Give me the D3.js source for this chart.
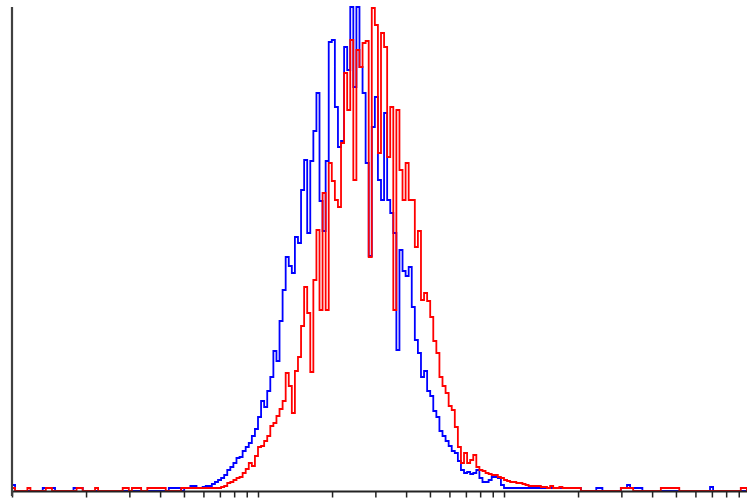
<!DOCTYPE html>
<html>
<head>
<meta charset="utf-8">
<script src="https://cdn.jsdelivr.net/npm/d3@7"></script>
<style>
  html, body { margin: 0; padding: 0; background: #fff; }
  svg { display: block; }
</style>
</head>
<body>
<svg id="chart" width="747" height="499"></svg>
<script>
// Histogram channels: 80 channels per decade on a log axis starting at 10^0
const channelsPerDecade = 80;

const blueCounts = [
  6,0,0,0,0,0,0,0,0,0, 3,3,3,3,0,0,0,0,0,0,
  3,3,3,0,0,0,0,0,0,0, 0,0,0,0,0,0,0,0,0,0,
  0,0,0,0,0,0,0,0,0,0, 0,3,3,3,3,0,3,3,5,5,
  3,3,4,5,5,7,9,11,13,16, 21,24,28,33,34,40,44,48,55,62,
  74,90,84,100,114,140,130,170,201,234, 225,218,254,248,301,331,258,330,360,398,
  290,260,330,449,451,384,344,350,444,421, 484,404,484,424,398,328,235,364,394,311,
  291,378,291,278,258,141,241,220,215,224, 184,151,138,114,120,100,95,80,74,60,
  55,50,45,40,38,30,21,18,19,17, 18,21,13,9,9,11,14,14,13,6,
  3,3,3,3,3,3,3,3,3,3, 3,3,3,3,3,3,3,3,3,3,
  3,3,3,3,3,0,0,0,0,0, 3,3,0,0,0,0,0,0,3,3,
  6,3,3,3,3,0,0,0,0,0, 0,0,0,0,0,0,0,0,0,0,
  0,0,0,0,0,0,0,4,0,0, 0,0,0,0,0,0,0,0,0,0
];

const redCounts = [
  3,0,0,0,0,3,0,0,0,0, 0,3,3,0,0,0,0,0,0,0,
  0,3,3,0,0,0,0,3,0,0, 0,0,0,0,0,0,3,3,0,3,
  3,3,0,0,3,3,3,3,3,3, 0,0,0,0,0,3,3,3,3,3,
  3,3,3,3,3,3,3,3,4,5, 8,9,11,13,14,18,22,28,25,35,
  44,45,50,55,65,68,75,82,90,118, 105,78,120,134,165,204,178,119,211,261,
  181,298,181,328,310,291,284,348,418,381, 451,311,441,424,448,450,234,483,466,338,
  458,444,334,384,181,381,321,291,328,291, 291,244,260,191,198,190,174,150,138,114,
  105,98,85,81,64,44,28,38,28,31, 36,24,21,20,18,17,16,16,14,13,
  11,10,9,9,8,8,7,6,5,5, 5,5,4,4,3,5,3,3,4,3,
  3,3,3,3,3,0,0,0,0,0, 0,0,0,0,0,0,0,0,3,3,
  3,3,0,0,0,0,0,0,0,0, 0,3,3,3,3,3,3,0,0,0,
  0,0,0,0,0,0,0,0,0,0, 0,0,0,0,0,0,0,3,3,0
];

const xTickValues = [1,2,3,4,5,6,7,8,9,10,20,30,40,50,60,70,80,90,100,200,300,400,500,600,700,800,900,1000];
const yMax = 483;

const svg = d3.select("#chart");
const W = 747, H = 499;

const x = d3.scaleLog().domain([1, 1000]).range([12, 750]);
const y = d3.scaleLinear().domain([0, yMax]).range([491, 8]);

function toPoints(counts) {
  const pts = counts.map((v, c) => [Math.pow(10, c / channelsPerDecade), v]);
  pts.push([Math.pow(10, counts.length / channelsPerDecade), counts[counts.length - 1]]);
  return pts;
}

const line = d3.line()
  .x(d => x(d[0]))
  .y(d => y(d[1]))
  .curve(d3.curveStepAfter);

svg.append("defs").append("clipPath").attr("id", "clip")
  .append("rect").attr("x", 12).attr("y", 0).attr("width", W - 12).attr("height", H);

const g = svg.append("g").attr("clip-path", "url(#clip)");

g.append("path")
  .datum(toPoints(blueCounts))
  .attr("d", line)
  .attr("fill", "none")
  .attr("stroke", "#0000ff")
  .attr("stroke-width", 1.8);

g.append("path")
  .datum(toPoints(redCounts))
  .attr("d", line)
  .attr("fill", "none")
  .attr("stroke", "#ff0000")
  .attr("stroke-width", 1.8);

// X axis (log, no labels)
const xAxis = d3.axisBottom(x)
  .tickValues(xTickValues)
  .tickSize(6)
  .tickFormat("");

const ax = svg.append("g")
  .attr("transform", "translate(0,491.5)")
  .call(xAxis);
ax.select(".domain").remove();
ax.selectAll(".tick line").attr("stroke", "#222").attr("stroke-width", 1.5);

svg.append("line")
  .attr("x1", 11).attr("x2", W)
  .attr("y1", 491.5).attr("y2", 491.5)
  .attr("stroke", "#222").attr("stroke-width", 2);

// Y axis line
svg.append("line")
  .attr("x1", 12).attr("x2", 12)
  .attr("y1", 7).attr("y2", 496)
  .attr("stroke", "#404040").attr("stroke-width", 2.2);
</script>
</body>
</html>
